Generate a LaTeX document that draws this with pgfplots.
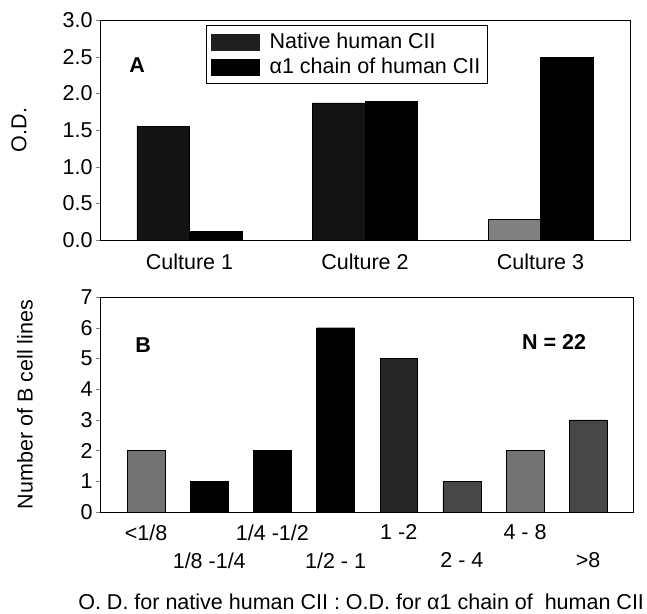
\documentclass[border=0pt]{standalone}
\usepackage{fontspec}
\setmainfont{Liberation Sans}
\usepackage{pgfplots}
\pgfplotsset{compat=1.18}
\begin{document}
\begin{tikzpicture}[font=\fontsize{21.5}{25}\selectfont]
\useasboundingbox (0pt,0pt) rectangle (647pt,-613pt);
% ---------------- Panel A ----------------
\begin{axis}[
  at={(100pt,-240pt)}, anchor=south west, scale only axis,
  width=530pt, height=220pt,
  xmin=0.49, xmax=3.51, ymin=0, ymax=3,
  xtick={1,2,3}, xticklabels={Culture 1, Culture 2, Culture 3},
  xticklabel style={yshift=-6pt},
  x tick style={draw=none},
  ytick={0,0.5,1,1.5,2,2.5,3},
  yticklabel style={/pgf/number format/fixed, /pgf/number format/precision=1, /pgf/number format/fixed zerofill},
  /pgf/number format/assume math mode=true,
  tick align=outside, ytick pos=left, major tick length=4pt,
  ylabel={O.D.}, ylabel style={at={(axis description cs:-0.153,0.5)}, anchor=center},
  legend style={draw=black, at={(0.2,0.977)}, anchor=north west, font=\fontsize{21.5}{25}\selectfont,
    inner xsep=5pt, inner ysep=6pt, row sep=4pt, column sep=8pt, nodes={inner sep=2pt}, cells={anchor=west}},
  legend cell align=left,
]
\addplot[ybar, bar width=0.3, bar shift=-0.15, fill=black!92, draw=black,
  legend image code/.code={\fill[black!88] (0pt,-8pt) rectangle (48pt,8pt);}]
  coordinates {(1,1.55) (2,1.87)};
\addlegendentry{Native human CII}
\addplot[ybar, bar width=0.3, bar shift=0.15, fill=black, draw=black,
  legend image code/.code={\fill[black] (0pt,-8pt) rectangle (48pt,8pt);}]
  coordinates {(1,0.12) (2,1.89) (3,2.49)};
\addlegendentry{α1 chain of human CII}
\addplot[ybar, bar width=0.3, bar shift=-0.15, fill=black!50, draw=black, forget plot]
  coordinates {(3,0.29)};
\node[font=\fontsize{21.5}{25}\selectfont\bfseries] at (rel axis cs:0.07,0.795) {A};
\end{axis}
% ---------------- Panel B ----------------
\begin{axis}[
  at={(100pt,-512pt)}, anchor=south west, scale only axis,
  width=533pt, height=215pt,
  xmin=-0.73, xmax=7.71, ymin=0, ymax=7,
  xtick={0,2,4,6}, xticklabels={<1/8, 1/4 -1/2, 1 -2, 4 - 8},
  xticklabel style={yshift=-5pt},
  extra x ticks={1,3,5,7}, extra x tick labels={1/8 -1/4, 1/2 - 1, 2 - 4, >8},
  extra x tick style={xticklabel style={yshift=-32pt}, major tick length=0pt},
  x tick style={draw=none},
  ytick={0,1,2,3,4,5,6,7},
  /pgf/number format/assume math mode=true,
  tick align=outside, ytick pos=left, major tick length=4pt,
  ylabel={Number of B cell lines}, ylabel style={at={(axis description cs:-0.141,0.5)}, anchor=center},
  xlabel={O. D. for native human CII : O.D. for α1 chain of\ \ human CII},
  xlabel style={at={(axis description cs:0.49,-0.419)}, anchor=center},
]
\addplot[ybar, bar width=0.6, bar shift=0, fill=black!55, draw=black]
  coordinates {(0,2) (6,2)};
\addplot[ybar, bar width=0.6, bar shift=0, fill=black!72, draw=black]
  coordinates {(5,1) (7,3)};
\addplot[ybar, bar width=0.6, bar shift=0, fill=black!85, draw=black]
  coordinates {(4,5)};
\addplot[ybar, bar width=0.6, bar shift=0, fill=black, draw=black]
  coordinates {(1,1) (2,2) (3,6)};
\node[font=\fontsize{21.5}{25}\selectfont\bfseries] at (rel axis cs:0.081,0.777) {B};
\node[font=\fontsize{21.5}{25}\selectfont\bfseries] at (rel axis cs:0.852,0.79) {N = 22};
\end{axis}
\end{tikzpicture}
\end{document}
